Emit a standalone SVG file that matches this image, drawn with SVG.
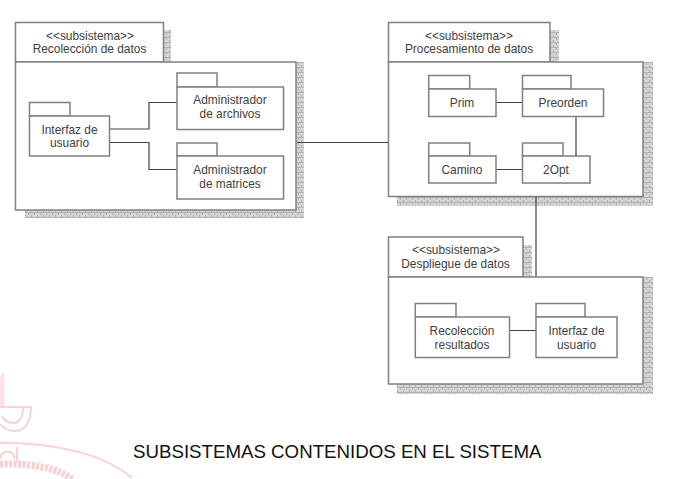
<svg xmlns="http://www.w3.org/2000/svg" width="689" height="479" viewBox="0 0 689 479">
<style>
.b{fill:#fff;stroke:#808080;stroke-width:1.5}
.s{fill:url(#h);stroke:none}
.c{fill:none;stroke:#404040;stroke-width:1.2}
.w{fill:none;stroke:#f8d3d3;stroke-width:2}
text{font-family:"Liberation Sans",Arial,sans-serif;font-size:11.9px;fill:#404040;text-anchor:middle}
text.cap{font-size:18.7px;fill:#111;text-anchor:start}
</style>
<defs>
<pattern id="h" width="6" height="5" patternUnits="userSpaceOnUse">
<rect width="6" height="5" fill="#d6d6d6"/>
<path d="M0 2.500H6M1.500 0V2.500M4.500 2.500V5" stroke="#b0b0b0" stroke-width="1" fill="none"/>
</pattern>
</defs>
<rect width="689" height="479" fill="#fff"/>
<g id="watermark">
<path d="M0 376L4 372L5 406H0Z" fill="#fbe3e3"/>
<path class="w" d="M0 407H32M31 407C31 423 24 431 15 431C8 431 3 428 0 424M23 407C23 418 19 423 13 423C8 423 4 420 2 416"/>
<path class="w" d="M0 443C40 442 100 450 132 478"/>
<path class="w" stroke-width="1.200" d="M0 459C2 449 12 449 15 459M17 447V462"/>
<path d="M0 464C30 463 58 468 72 479" fill="none" stroke="#f8d0d0" stroke-width="7" stroke-dasharray="3 1.500"/>
</g>
<g id="subsistema-recoleccion">
<path class="s" d="M163 30H171V62H304V218H25V210H296V62H163Z"/>
<rect class="b" x="15.500" y="22.500" width="148" height="39.500"/>
<rect class="b" x="15.500" y="62" width="280.500" height="148"/>
<text x="90" y="40">&lt;&lt;subsistema&gt;&gt;</text>
<text x="89.500" y="53">Recolección de datos</text>
</g>
<g id="subsistema-procesamiento">
<path class="s" d="M550 30H559V62H653V206H397V196.500H643V62H550Z"/>
<rect class="b" x="388.500" y="22.500" width="161.500" height="39.500"/>
<rect class="b" x="388.500" y="62" width="254.500" height="134.500"/>
<text x="469" y="40">&lt;&lt;subsistema&gt;&gt;</text>
<text x="469" y="53">Procesamiento de datos</text>
</g>
<g id="subsistema-despliegue">
<path class="s" d="M523 245H532V277H653V394H397V384H643V277H523Z"/>
<rect class="b" x="388.500" y="237" width="134.500" height="40"/>
<rect class="b" x="388.500" y="277" width="254.500" height="107"/>
<text x="456" y="254">&lt;&lt;subsistema&gt;&gt;</text>
<text x="455.500" y="268">Despliegue de datos</text>
</g>
<g id="connectors">
<path class="c" d="M109 129H149V102.500H177M109 142.500H149V169.500H177M297 142.500H388M496 102.500H522.500M496 169.500H522.500M576 116.500V156M536 197V276.500M509.500 330.500H536"/>
</g>
<g id="interfaz-1">
<rect class="b" x="29.500" y="102.500" width="40.500" height="13.500"/>
<rect class="b" x="29.500" y="116" width="80" height="40"/>
<text x="69.500" y="134">Interfaz de</text>
<text x="69.500" y="147">usuario</text>
</g>
<g id="admin-archivos">
<rect class="b" x="177" y="73" width="40" height="14"/>
<rect class="b" x="177" y="87" width="106.500" height="42.500"/>
<text x="230" y="104">Administrador</text>
<text x="230" y="118">de archivos</text>
</g>
<g id="admin-matrices">
<rect class="b" x="177" y="143" width="40" height="13"/>
<rect class="b" x="177" y="156" width="106.500" height="43"/>
<text x="230" y="174">Administrador</text>
<text x="230" y="188">de matrices</text>
</g>
<g id="prim">
<rect class="b" x="428.700" y="75.500" width="41" height="13.500"/>
<rect class="b" x="428.700" y="89" width="67.300" height="27.500"/>
<text x="462" y="106.500">Prim</text>
</g>
<g id="preorden">
<rect class="b" x="522.500" y="75.500" width="48.500" height="13.500"/>
<rect class="b" x="522.500" y="89" width="81" height="27.500"/>
<text x="563" y="106.500">Preorden</text>
</g>
<g id="camino">
<rect class="b" x="428.700" y="143" width="41" height="13"/>
<rect class="b" x="428.700" y="156" width="67.300" height="27"/>
<text x="462" y="173.500">Camino</text>
</g>
<g id="dos-opt">
<rect class="b" x="522.500" y="143" width="40.500" height="13"/>
<rect class="b" x="522.500" y="156" width="67.500" height="27"/>
<text x="556" y="173.500">2Opt</text>
</g>
<g id="recoleccion-resultados">
<rect class="b" x="415.300" y="303.500" width="40.700" height="13.500"/>
<rect class="b" x="415.300" y="317" width="94.200" height="40.500"/>
<text x="462" y="335">Recolección</text>
<text x="462" y="349">resultados</text>
</g>
<g id="interfaz-2">
<rect class="b" x="536" y="303.500" width="49" height="13.500"/>
<rect class="b" x="536" y="317" width="81" height="40.500"/>
<text x="576.500" y="335">Interfaz de</text>
<text x="576.500" y="349">usuario</text>
</g>
<text class="cap" x="133" y="458">SUBSISTEMAS CONTENIDOS EN EL SISTEMA</text>
</svg>
